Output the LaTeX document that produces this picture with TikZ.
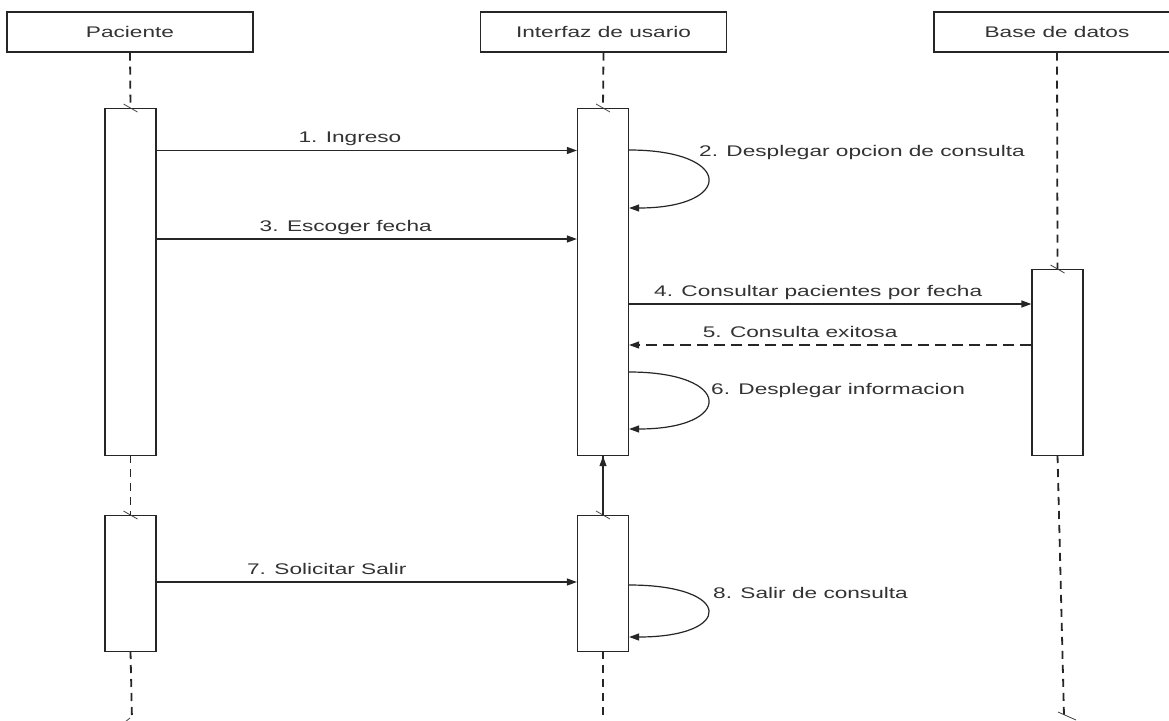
\documentclass[tikz,border=0pt]{standalone}
\usepackage{fontspec}
\setmainfont{Liberation Sans}[FakeStretch=1.47]
\usetikzlibrary{arrows.meta}

\begin{document}
\begin{tikzpicture}[x=1pt,y=-1pt,
  line/.style={draw=black!85, line width=1.2pt},
  txt/.style={font=\fontsize{15.4}{18}\selectfont, text=black!80},
  head/.style={line, txt, fill=white, minimum width=246pt, minimum height=40pt, inner sep=0pt},
  act/.style={line, fill=white, minimum width=51pt, inner sep=0pt, anchor=north},
  life/.style={draw=black!85, line width=1.8pt, dash pattern=on 8pt off 6pt},
  msg/.style={line, -{Triangle[length=10pt,width=7pt]}},
  reply/.style={msg, dash pattern=on 11pt off 6pt},
  lbl/.style={txt, inner sep=0pt, anchor=base, yshift=8pt},
  note/.style={txt, inner sep=0pt, anchor=west},
  tick/.style={draw=black!75, line width=0.8pt}
]
\useasboundingbox (0,0) rectangle (1169,720);
\fill[white] (0,0) rectangle (1169,720);
\begin{scope}
\clip (0,0) rectangle (1169,720);

% participants
\node[head] (pH) at (130,32) {Paciente};
\node[head] (iH) at (603.5,32) {Interfaz de usario};
\node[head] (bH) at (1057,32) {Base de datos};

% lifeline end points
\coordinate (pEnd) at (132,720);
\coordinate (iEnd) at (603,720);
\coordinate (bEnd) at (1064,716);

% activation bar anchors (bars are drawn after the lifelines)
\path (130.5,108) coordinate (pA1t) (603,108) coordinate (iA1t) (1057.5,269) coordinate (bAt)
      (130.5,515) coordinate (pA2t) (603,515) coordinate (iA2t);

% lifelines
\draw[life] (pH.south) -- (pA1t);
\draw[life] (130.5,455) -- (pA2t);
\draw[life] (130.5,651) -- (pEnd);
\draw[life] (iH.south) -- (iA1t);
\draw[life] (603,455) -- (iA2t);
\draw[life] (603,651) -- (iEnd);
\draw[life] (bH.south) -- (bAt);
\draw[life] (1057.5,455) -- (bEnd);

% activations
\node[act, minimum height=347pt] (pA1) at (pA1t) {};
\node[act, minimum height=347pt] (iA1) at (iA1t) {};
\node[act, minimum height=186pt] (bA)  at (bAt) {};
\node[act, minimum height=136pt] (pA2) at (pA2t) {};
\node[act, minimum height=136pt] (iA2) at (iA2t) {};

% small marks where the lifelines meet the bars
\foreach \n in {pA1,iA1,bA,pA2,iA2}
  \draw[tick] ([shift={(-7pt,4pt)}]\n.north) -- ([shift={(7pt,-4pt)}]\n.north);
\draw[tick] ([shift={(-6pt,4pt)}]bEnd) -- ([shift={(12pt,-4pt)}]bEnd);
\draw[tick] ([shift={(-7pt,-2pt)}]pEnd) -- ([shift={(-2pt,2pt)}]pEnd);

% messages
\draw[msg] ([yshift=-42.5pt]pA1.north east) -- ([yshift=-42.5pt]iA1.north west)
  node[lbl, pos=0.46] {1. Ingreso};
\draw[msg] ([yshift=-42pt]iA1.north east) .. controls +(105,0) and +(105,0) .. ([yshift=-100pt]iA1.north east);
\node[note] (n2) at (699,153) {2. Desplegar opcion de consulta};
\draw[msg] ([yshift=-131pt]pA1.north east) -- ([yshift=-131pt]iA1.north west)
  node[lbl, pos=0.45] {3. Escoger fecha};
\draw[msg] ([yshift=-196pt]iA1.north east) -- ([yshift=-196pt]bA.north west |- iA1.north)
  node[lbl, pos=0.47] {4. Consultar pacientes por fecha};
\draw[reply] ([yshift=-76pt]bA.north west) -- ([yshift=-237pt]iA1.north east)
  node[lbl, pos=0.575] {5. Consulta exitosa};
\draw[msg] ([yshift=-264pt]iA1.north east) .. controls +(105,0) and +(105,0) .. ([yshift=-321pt]iA1.north east);
\node[note] (n6) at (711,391) {6. Desplegar informacion};
\draw[msg] (iA2.north) -- (iA1.south);
\draw[msg] ([yshift=-67pt]pA2.north east) -- ([yshift=-67pt]iA2.north west)
  node[lbl, pos=0.405] {7. Solicitar Salir};
\draw[msg] ([yshift=-70pt]iA2.north east) .. controls +(105,0) and +(105,0) .. ([yshift=-122pt]iA2.north east);
\node[note] (n8) at (713,593) {8. Salir de consulta};
\end{scope}
\end{tikzpicture}
\end{document}
